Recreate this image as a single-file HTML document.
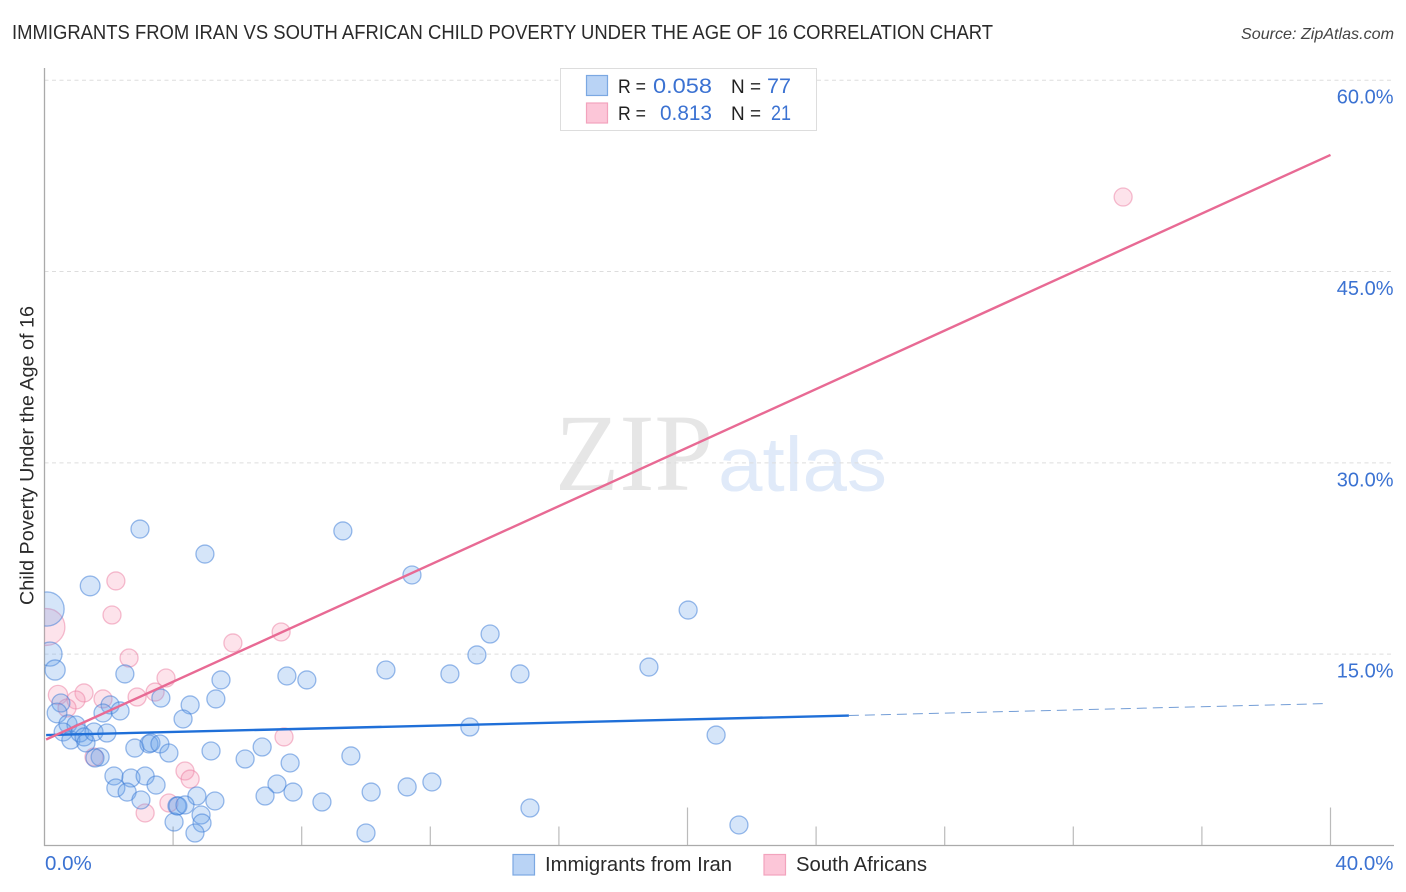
<!DOCTYPE html>
<html lang="en">
<head>
<meta charset="utf-8">
<title>Immigrants from Iran vs South African Child Poverty Correlation Chart</title>
<style>
html,body{margin:0;padding:0;background:#fff;width:1406px;height:892px;overflow:hidden}
svg{display:block;font-family:"Liberation Sans",sans-serif}
</style>
</head>
<body>
<svg id="chart" xmlns="http://www.w3.org/2000/svg" width="1406" height="892" viewBox="0 0 1406 892">
  <defs>
    <clipPath id="plot-clip"><rect x="44.5" y="60" width="1350" height="785.5"/></clipPath>
  </defs>
  <text x="12" y="39" font-size="20" fill="#2a2a2a" textLength="981" lengthAdjust="spacingAndGlyphs">IMMIGRANTS FROM IRAN VS SOUTH AFRICAN CHILD POVERTY UNDER THE AGE OF 16 CORRELATION CHART</text>
  <text x="1241" y="39" font-size="16" font-style="italic" fill="#444" textLength="153" lengthAdjust="spacingAndGlyphs">Source: ZipAtlas.com</text>
  <text x="555" y="490" font-size="110" fill="#e6e6e6" style="font-family:'Liberation Serif',serif" textLength="158" lengthAdjust="spacingAndGlyphs">ZIP</text>
  <text x="718" y="491" font-size="77" fill="#e0eaf9" textLength="169" lengthAdjust="spacingAndGlyphs">atlas</text>
  <g id="grid"></g>
  <g id="ticks"></g>
  <line x1="44.5" y1="68" x2="44.5" y2="846" stroke="#aaa" stroke-width="1.3"/>
  <line x1="44" y1="845.5" x2="1394" y2="845.5" stroke="#aaa" stroke-width="1.3"/>
  <g id="points" clip-path="url(#plot-clip)"></g>
  <g id="trends"></g>
  <g id="labels"></g>
  <text transform="translate(33.5,455.5) rotate(-90)" font-size="19.5" fill="#2a2a2a" text-anchor="middle" textLength="299" lengthAdjust="spacingAndGlyphs">Child Poverty Under the Age of 16</text>

  <g>
    <rect x="560.5" y="68.5" width="256" height="62" fill="#fff" stroke="#ddd" stroke-width="1"/>
    <rect x="586.5" y="75.5" width="21" height="20" fill="#b9d3f5" stroke="#7ba8e2" stroke-width="1.2"/>
    <rect x="586.5" y="103" width="21" height="20" fill="#fcc6d8" stroke="#f2a3bd" stroke-width="1.2"/>
    <text x="618" y="93" font-size="19.5" fill="#222" textLength="28" lengthAdjust="spacingAndGlyphs">R =</text>
    <text x="653" y="93" font-size="21.5" fill="#3b72d2" textLength="59" lengthAdjust="spacingAndGlyphs">0.058</text>
    <text x="731" y="93" font-size="19.5" fill="#222" textLength="30" lengthAdjust="spacingAndGlyphs">N =</text>
    <text x="767" y="93" font-size="21.5" fill="#3b72d2" textLength="24" lengthAdjust="spacingAndGlyphs">77</text>
    <text x="618" y="120" font-size="19.5" fill="#222" textLength="28" lengthAdjust="spacingAndGlyphs">R =</text>
    <text x="660" y="120" font-size="21.5" fill="#3b72d2" textLength="52" lengthAdjust="spacingAndGlyphs">0.813</text>
    <text x="731" y="120" font-size="19.5" fill="#222" textLength="30" lengthAdjust="spacingAndGlyphs">N =</text>
    <text x="771" y="120" font-size="21.5" fill="#3b72d2" textLength="20" lengthAdjust="spacingAndGlyphs">21</text>
  </g>

  <g>
    <rect x="513" y="854.5" width="21.5" height="20.5" fill="#b9d3f5" stroke="#7ba8e2" stroke-width="1.2"/>
    <text x="545" y="871" font-size="20" fill="#2a2a2a" textLength="187" lengthAdjust="spacingAndGlyphs">Immigrants from Iran</text>
    <rect x="764" y="854.5" width="21.5" height="20.5" fill="#fcc6d8" stroke="#f2a3bd" stroke-width="1.2"/>
    <text x="796" y="871" font-size="20" fill="#2a2a2a" textLength="131" lengthAdjust="spacingAndGlyphs">South Africans</text>
  </g>
</svg>
<script>
const yTickValues = [15, 30, 45, 60];
const yTickLabels = ['15.0%', '30.0%', '45.0%', '60.0%'];
const xTickValues = [4, 8, 12, 16, 20, 24, 28, 32, 36, 40];
const xMajorTicks = [20, 40];
const xEndValues = [0, 40];
const xEndLabels = ['0.0%', '40.0%'];

const iranX = [2.97,4.99,9.28,11.43,1.42,20.02,13.86,13.45,10.62,12.61,14.79,18.80,2.50,7.54,8.16,5.49,3.62,4.53,5.33,0.51,0.39,2.04,1.82,2.35,4.31,0.73,0.98,0.58,0.82,1.10,1.23,1.29,1.54,1.94,2.81,3.25,3.31,3.59,3.87,5.18,6.24,6.77,7.64,7.23,6.86,7.73,8.63,9.53,1.73,1.57,2.16,2.22,2.69,2.57,3.13,3.47,3.00,4.74,5.30,4.12,4.15,4.37,4.87,4.90,4.03,4.68,10.00,10.16,11.28,12.05,15.10,21.60,20.89,13.23,0.08,0.17,0.33];
const iranY = [24.81,22.85,24.66,21.21,20.35,18.46,16.58,14.94,13.76,13.45,13.45,13.99,13.45,13.29,12.98,12.98,11.56,11.02,11.49,11.17,10.39,11.02,10.39,10.55,9.92,9.53,9.45,8.90,8.27,8.82,8.51,8.04,8.90,8.82,7.64,7.96,8.04,7.96,7.25,7.41,6.78,7.72,6.47,4.82,3.88,4.19,3.41,7.02,6.94,6.86,5.45,4.51,5.29,4.19,5.45,4.74,3.57,3.88,3.49,3.10,3.10,3.18,2.39,1.76,1.84,0.98,0.98,4.19,4.59,4.98,2.94,1.61,8.66,9.29,18.54,15.01,13.76];
const iranWeight = [1,1,1,1,1.2,1,1,1,1,1,1,1,1,1,1,1,1,1,1,1,1.2,1,1,1,1,1,1,1,1,1,1,1,1,1,1,1,1,1,1,1,1,1,1,1,1,1,1,1,1,1,1,1,1,1,1,1,1,1,1,1,1,1,1,1,1,1,1,1,1,1,1,1,1,1,3.6,1.8,1.25];

const southAfricanX = [33.55,2.22,2.10,7.36,5.86,2.63,3.78,3.44,2.88,1.82,1.23,0.98,0.42,0.70,7.45,1.54,4.37,4.53,3.87,3.13,0.06];
const southAfricanY = [50.84,20.74,18.07,16.74,15.88,14.70,13.13,12.03,11.64,11.49,11.96,11.41,11.80,10.78,8.51,6.94,5.84,5.21,3.33,2.55,17.13];
const southAfricanWeight = [1,1,1,1,1,1,1,1,1,1,1,1,1.15,1,1,1,1,1,1,1,4.2];

const iranTrendX = [0.05, 25.02];
const iranTrendY = [8.66, 10.19];
const iranForecastX = [25.02, 39.92];
const iranForecastY = [10.19, 11.13];
const southAfricanTrendX = [0.05, 40];
const southAfricanTrendY = [8.31, 54.14];

const NS = 'http://www.w3.org/2000/svg';
const xScale = v => 44.5 + v * 32.15;
const yScale = v => 845.5 - v * 12.755;
const baseRadius = 9;

function make(parent, tag, attrs) {
  const el = document.createElementNS(NS, tag);
  for (const k in attrs) el.setAttribute(k, attrs[k]);
  document.getElementById(parent).appendChild(el);
  return el;
}

yTickValues.forEach(v => {
  const el = make('grid', 'line', {x1: 44.5, x2: 1394, y1: yScale(v), y2: yScale(v), stroke: '#ddd', 'stroke-width': 1, 'stroke-dasharray': '4 3.5'});
  
  
});

xTickValues.forEach(v => {
  const top = xMajorTicks.includes(v) ? 807.5 : 826.5;
  const el = make('ticks', 'line', {x1: xScale(v), x2: xScale(v), y1: top, y2: 845.5, stroke: '#bbb', 'stroke-width': 1.2});
  
  
});

yTickValues.forEach((v, i) => {
  const el = make('labels', 'text', {x: 1393.5, y: yScale(v) + 23.5, 'font-size': 20, fill: '#3b72d2', 'text-anchor': 'end'});
  el.textContent = yTickLabels[i];
  
  
});

xEndValues.forEach((v, i) => {
  const el = make('labels', 'text', {x: i === 0 ? xScale(v) + 0.5 : 1393.5, y: 870, 'font-size': 20.5, fill: '#3b72d2', 'text-anchor': i === 0 ? 'start' : 'end'});
  el.textContent = xEndLabels[i];
  
  
});

southAfricanX.forEach((v, i) => {
  const el = make('points', 'circle', {cx: xScale(v), cy: yScale(southAfricanY[i]), r: baseRadius * Math.sqrt(southAfricanWeight[i]), fill: 'rgba(246,150,182,.27)', stroke: 'rgba(236,125,162,.5)', 'stroke-width': 1.3});
  
  
});

iranX.forEach((v, i) => {
  const el = make('points', 'circle', {cx: xScale(v), cy: yScale(iranY[i]), r: baseRadius * Math.sqrt(iranWeight[i]), fill: 'rgba(105,160,232,.28)', stroke: 'rgba(62,125,215,.52)', 'stroke-width': 1.3});
  
  
});

const iranTrend = make('trends', 'line', {x1: xScale(iranTrendX[0]), y1: yScale(iranTrendY[0]), x2: xScale(iranTrendX[1]), y2: yScale(iranTrendY[1]), stroke: '#1f6fd8', 'stroke-width': 2.4});



const iranForecast = make('trends', 'line', {x1: xScale(iranForecastX[0]), y1: yScale(iranForecastY[0]), x2: xScale(iranForecastX[1]), y2: yScale(iranForecastY[1]), stroke: '#5b8ccf', 'stroke-width': 1, 'stroke-dasharray': '10 6', opacity: .85});



const southAfricanTrend = make('trends', 'line', {x1: xScale(southAfricanTrendX[0]), y1: yScale(southAfricanTrendY[0]), x2: xScale(southAfricanTrendX[1]), y2: yScale(southAfricanTrendY[1]), stroke: '#e86a94', 'stroke-width': 2.4});


</script>
</body>
</html>
